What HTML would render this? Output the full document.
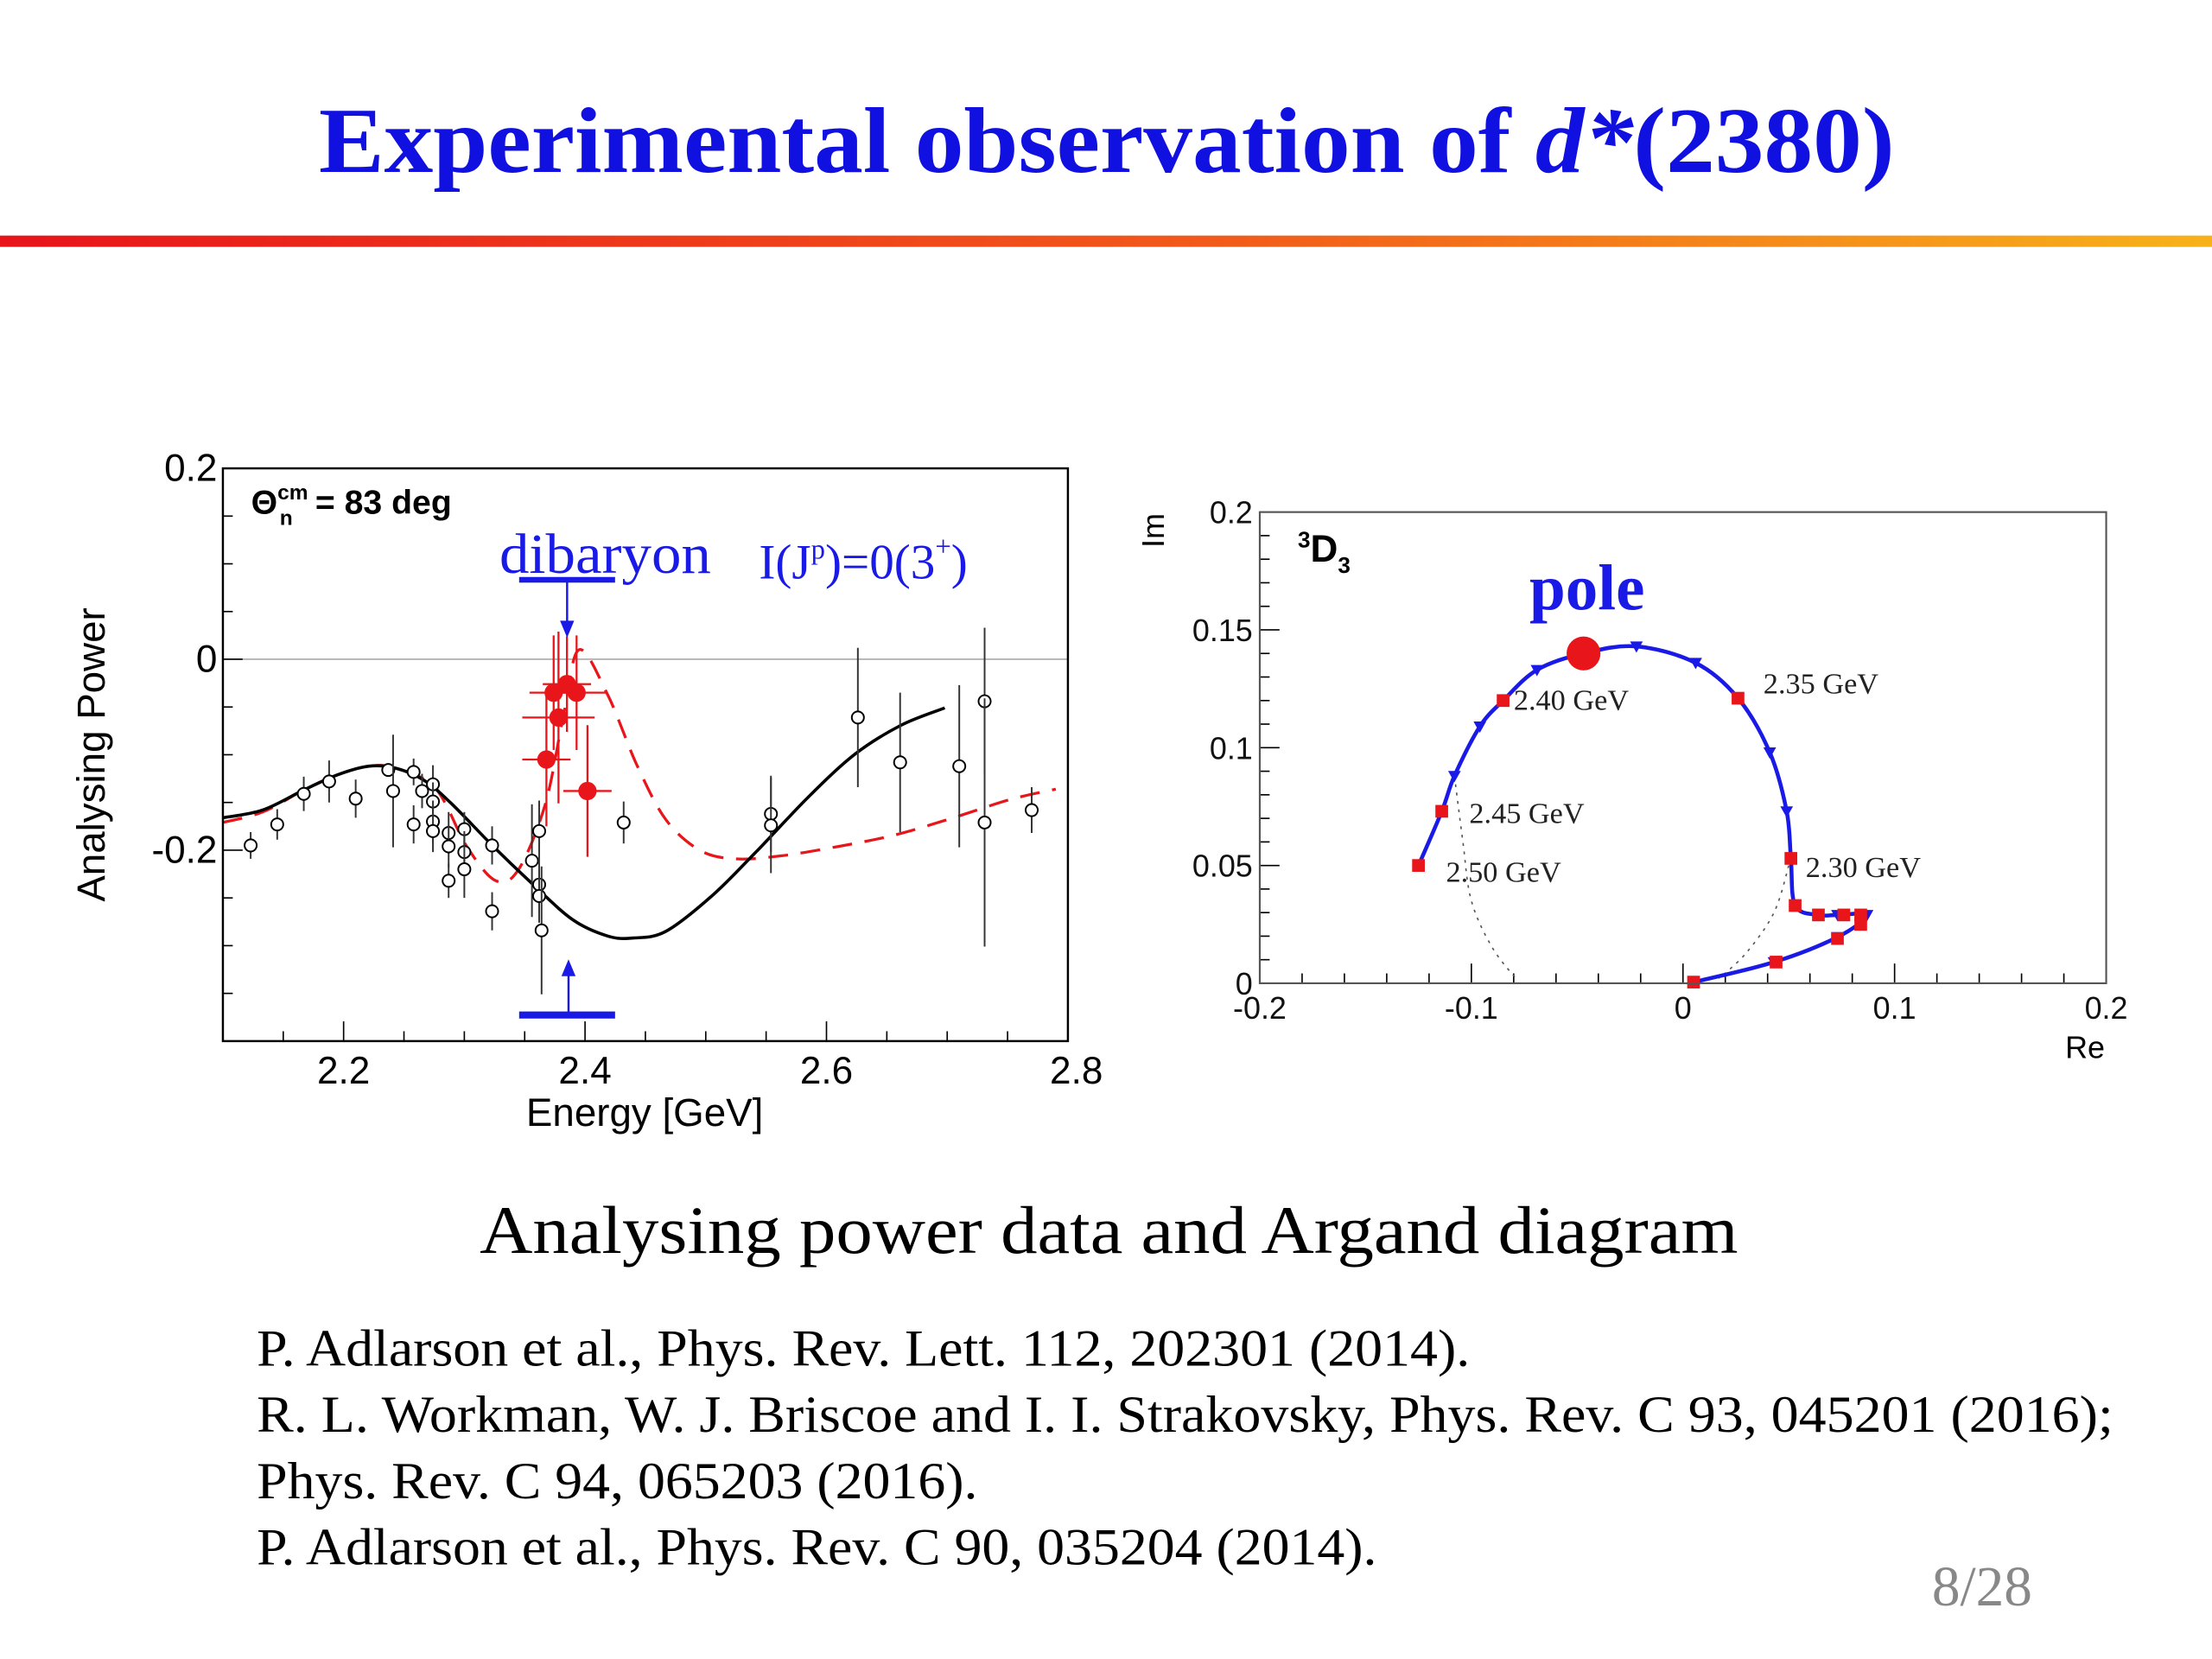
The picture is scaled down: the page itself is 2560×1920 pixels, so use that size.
<!DOCTYPE html>
<html><head><meta charset="utf-8">
<style>
html,body{margin:0;padding:0;background:#fff;}
svg{display:block;}
</style></head>
<body>
<svg id="s" width="2560" height="1920" viewBox="0 0 1568 1176" xmlns="http://www.w3.org/2000/svg">
<defs>
<linearGradient id="g" x1="0" x2="1" y1="0" y2="0">
<stop offset="0" stop-color="#e8141a"/><stop offset="0.55" stop-color="#f25a1a"/><stop offset="1" stop-color="#f7b21a"/>
</linearGradient>
<clipPath id="clipL"><rect x="158" y="332" width="599" height="406"/></clipPath>
</defs>
<rect width="1568" height="1176" fill="#fff"/>
<text x="226" y="122" textLength="1117" lengthAdjust="spacingAndGlyphs" font-family="Liberation Serif, serif" font-weight="bold" font-size="66" fill="#1010e0">Experimental observation of <tspan font-style="italic">d*</tspan>(2380)</text>
<rect x="0" y="167" width="1568" height="8" fill="url(#g)"/>
<g id="left"></g>
<g id="right"></g>
<text x="340" y="888" textLength="892" lengthAdjust="spacingAndGlyphs" font-family="Liberation Serif, serif" font-size="48" fill="#000">Analysing power data and Argand diagram</text>
<g font-family="Liberation Serif, serif" font-size="37" fill="#000">
<text x="182" y="968" textLength="860" lengthAdjust="spacingAndGlyphs">P. Adlarson et al., Phys. Rev. Lett. 112, 202301 (2014).</text>
<text x="182" y="1015" textLength="1316" lengthAdjust="spacingAndGlyphs">R. L. Workman, W. J. Briscoe and I. I. Strakovsky, Phys. Rev. C 93, 045201 (2016);</text>
<text x="182" y="1062" textLength="511" lengthAdjust="spacingAndGlyphs">Phys. Rev. C 94, 065203 (2016).</text>
<text x="182" y="1109" textLength="794" lengthAdjust="spacingAndGlyphs">P. Adlarson et al., Phys. Rev. C 90, 035204 (2014).</text>
</g>
<text x="1405" y="1138" text-anchor="middle" font-family="Liberation Serif, serif" font-size="40" fill="#888">8/28</text>
</svg>
<script>
// ---- Left chart data ----
const blackX=[2.123,2.145,2.167,2.188,2.21,2.237,2.241,2.258,2.258,2.265,2.274,2.274,2.274,2.274,2.287,2.287,2.287,2.3,2.3,2.3,2.323,2.323,2.356,2.362,2.362,2.362,2.364,2.432,2.554,2.554,2.626,2.661,2.71,2.731,2.731,2.77];
const blackY=[-0.195,-0.173,-0.141,-0.128,-0.146,-0.116,-0.138,-0.118,-0.173,-0.138,-0.131,-0.149,-0.170,-0.180,-0.182,-0.196,-0.232,-0.178,-0.202,-0.22,-0.195,-0.264,-0.211,-0.18,-0.236,-0.248,-0.284,-0.171,-0.162,-0.174,-0.061,-0.108,-0.112,-0.044,-0.171,-0.158];
const blackErr=[0.014,0.016,0.018,0.022,0.02,0.006,0.059,0.014,0.02,0.018,0.02,0.02,0.022,0.022,0.022,0.022,0.018,0.018,0.022,0.03,0.02,0.02,0.059,0.032,0.028,0.028,0.067,0.022,0.04,0.05,0.073,0.073,0.085,0.077,0.13,0.024];
const redX=[2.368,2.378,2.374,2.385,2.393,2.402];
const redY=[-0.105,-0.061,-0.035,-0.026,-0.035,-0.138];
const redYErr=[0.07,0.09,0.06,0.05,0.06,0.069];
const redXErr=[0.02,0.03,0.02,0.02,0.025,0.02];
const fitX=[2.1,2.133,2.167,2.195,2.221,2.243,2.267,2.29,2.324,2.357,2.39,2.419,2.44,2.467,2.505,2.543,2.586,2.624,2.662,2.698];
const fitY=[-0.166,-0.158,-0.137,-0.121,-0.112,-0.114,-0.127,-0.152,-0.196,-0.236,-0.273,-0.29,-0.292,-0.285,-0.248,-0.2,-0.143,-0.099,-0.069,-0.051];
const dashX=[2.1,2.133,2.167,2.195,2.221,2.243,2.276,2.302,2.326,2.345,2.367,2.382,2.395,2.419,2.443,2.467,2.495,2.524,2.562,2.61,2.657,2.705,2.752,2.79];
const dashY=[-0.171,-0.16,-0.137,-0.121,-0.112,-0.114,-0.135,-0.196,-0.232,-0.22,-0.152,-0.06,0.01,-0.038,-0.111,-0.168,-0.2,-0.209,-0.206,-0.196,-0.184,-0.166,-0.147,-0.136];
const xTickLabels=["2.2","2.4","2.6","2.8"];
const yTickLabels=["0.2","0","-0.2"];
// ---- Argand data ----
const argRe=[0.005,0.043,0.073,0.087,0.073,0.064,0.053,0.051,0.049,0.041,0.026,0.006,-0.022,-0.047,-0.069,-0.085,-0.096,-0.108,-0.114,-0.125];
const argIm=[0.0005,0.009,0.0196,0.029,0.029,0.029,0.033,0.053,0.073,0.098,0.121,0.136,0.143,0.14,0.133,0.12,0.109,0.088,0.073,0.05];
const sqRe=[0.005,0.044,0.073,0.084,0.084,0.076,0.064,0.053,0.051,0.026,-0.085,-0.114,-0.125];
const sqIm=[0.0005,0.009,0.019,0.025,0.029,0.029,0.029,0.033,0.053,0.121,0.12,0.073,0.05];
const poleRe=[-0.047], poleIm=[0.14];
const dotRe1=[-0.108,-0.104,-0.1,-0.09,-0.078], dotIm1=[0.088,0.06,0.035,0.015,0.001];
const dotRe2=[0.05,0.043,0.03,0.017], dotIm2=[0.05,0.03,0.013,0.002];
const reTicks=["-0.2","-0.1","0","0.1","0.2"];
const imTicks=["0","0.05","0.1","0.15","0.2"];
const gevLabels=["2.30 GeV","2.35 GeV","2.40 GeV","2.45 GeV","2.50 GeV"];
const gevRe=[0.058,0.038,-0.080,-0.101,-0.112];
const gevIm=[0.045,0.123,0.116,0.068,0.043];

const NS="http://www.w3.org/2000/svg";
function mk(parent,tag,attrs){const e=document.createElementNS(NS,tag);for(const k in attrs)e.setAttribute(k,attrs[k]);parent.appendChild(e);return e;}
const L={x0:158,x1:757,y0:332,y1:738,xmin:2.1,xmax:2.8,ymin:-0.4,ymax:0.2};
const lx=v=>L.x0+(v-L.xmin)/(L.xmax-L.xmin)*(L.x1-L.x0);
const ly=v=>L.y1-(v-L.ymin)/(L.ymax-L.ymin)*(L.y1-L.y0);
const R={x0:893,x1:1493,y0:363,y1:697,xmin:-0.2,xmax:0.2,ymin:0,ymax:0.2};
const rx=v=>R.x0+(v-R.xmin)/(R.xmax-R.xmin)*(R.x1-R.x0);
const ry=v=>R.y1-(v-R.ymin)/(R.ymax-R.ymin)*(R.y1-R.y0);
function smooth(xs,ys,fx,fy){const p=xs.map((v,i)=>[fx(v),fy(ys[i])]);let d='M'+p[0][0].toFixed(1)+','+p[0][1].toFixed(1);
 for(let i=0;i<p.length-1;i++){const a=p[i-1]||p[i],b=p[i],c=p[i+1],n=p[i+2]||c;
  const c1=[b[0]+(c[0]-a[0])/6,b[1]+(c[1]-a[1])/6],c2=[c[0]-(n[0]-b[0])/6,c[1]-(n[1]-b[1])/6];
  d+=` C${c1[0].toFixed(1)},${c1[1].toFixed(1)} ${c2[0].toFixed(1)},${c2[1].toFixed(1)} ${c[0].toFixed(1)},${c[1].toFixed(1)}`;}
 return d;}

const left=document.getElementById('left');
let e;
e=mk(left,'line',{x1:L.x0,x2:L.x1,y1:ly(0),y2:ly(0),stroke:'#aaa','stroke-width':1});


for(let i=0;i<=12;i++){const v=L.ymin+i*0.05;const major=(i%4===0);
 e=mk(left,'line',{x1:L.x0,x2:L.x0+(major?14:7),y1:ly(v),y2:ly(v),stroke:'#000','stroke-width':1});
 
 }
for(let i=0;i<=14;i++){const v=L.xmin+i*0.05;const major=(Math.round(v*100)%20===0);
 e=mk(left,'line',{x1:lx(v),x2:lx(v),y1:L.y1,y2:L.y1-(major?14:7),stroke:'#000','stroke-width':1});
 
 }
xTickLabels.forEach((t,i)=>{e=mk(left,'text',{x:lx(parseFloat(t))+(i===3?6:0),y:768,'text-anchor':'middle','font-family':'Liberation Sans, sans-serif','font-size':27});e.textContent=t;
 
 });
yTickLabels.forEach((t,i)=>{e=mk(left,'text',{x:154,y:ly(parseFloat(t))+9,'text-anchor':'end','font-family':'Liberation Sans, sans-serif','font-size':27});e.textContent=t;
 
 });
e=mk(left,'text',{x:457,y:798,'text-anchor':'middle','font-family':'Liberation Sans, sans-serif','font-size':28});e.textContent='Energy [GeV]';


e=mk(left,'text',{x:0,y:0,transform:'translate(74,535) rotate(-90)','text-anchor':'middle','font-family':'Liberation Sans, sans-serif','font-size':28});e.textContent='Analysing Power';


const pts=(xs,ys,fx,fy)=>xs.map((v,i)=>fx(v).toFixed(1)+','+fy(ys[i]).toFixed(1)).join(' ');
const gc=mk(left,'g',{'clip-path':'url(#clipL)'});


e=mk(gc,'path',{d:smooth(dashX,dashY,lx,ly),fill:'none',stroke:'#e8161a','stroke-width':2,'stroke-dasharray':'14,9'});


e=mk(gc,'path',{d:smooth(fitX,fitY,lx,ly),fill:'none',stroke:'#000','stroke-width':2.2});


blackX.forEach((v,i)=>{const g=mk(gc,'g',{});
 
 
 mk(g,'line',{x1:lx(v),x2:lx(v),y1:ly(blackY[i]+blackErr[i]),y2:ly(blackY[i]-blackErr[i]),stroke:'#333','stroke-width':1.2});
 mk(g,'circle',{cx:lx(v),cy:ly(blackY[i]),r:4.3,fill:'#fff',stroke:'#000','stroke-width':1.2});});
redX.forEach((v,i)=>{const g=mk(gc,'g',{});
 
 
 mk(g,'line',{x1:lx(v),x2:lx(v),y1:ly(redY[i]+redYErr[i]),y2:ly(redY[i]-redYErr[i]),stroke:'#e8161a','stroke-width':1.4});
 mk(g,'line',{x1:lx(v-redXErr[i]),x2:lx(v+redXErr[i]),y1:ly(redY[i]),y2:ly(redY[i]),stroke:'#e8161a','stroke-width':1.4});
 mk(g,'circle',{cx:lx(v),cy:ly(redY[i]),r:6.5,fill:'#e8161a'});});
e=mk(left,'rect',{x:L.x0,y:L.y0,width:L.x1-L.x0,height:L.y1-L.y0,fill:'none',stroke:'#000','stroke-width':1.5});


e=mk(left,'text',{x:178,y:364,'font-family':'Liberation Sans, sans-serif','font-size':24,'font-weight':'bold'});
e.innerHTML='Θ<tspan font-size="15" dy="-10">cm</tspan><tspan font-size="15" dx="-20" dy="18">n</tspan><tspan dx="16" dy="-8">= 83 deg</tspan>';


e=mk(left,'text',{x:354,y:406,textLength:150,lengthAdjust:'spacingAndGlyphs','font-family':'Liberation Serif, serif','font-size':40,fill:'#1a1ae6'});e.textContent='dibaryon';


e=mk(left,'text',{x:538,y:410,'font-family':'Liberation Serif, serif','font-size':35,fill:'#1a1ae6'});
e.innerHTML='I(J<tspan font-size="20" dy="-14">p</tspan><tspan dy="14">)=0(3</tspan><tspan font-size="20" dy="-16">+</tspan><tspan dy="16">)</tspan>';


const arrows=mk(left,'g',{stroke:'#1a1ae6',fill:'#1a1ae6'});


mk(arrows,'rect',{x:368,y:409,width:68,height:4,stroke:'none'});
mk(arrows,'line',{x1:402,x2:402,y1:411,y2:443,'stroke-width':1.5});
mk(arrows,'path',{d:'M397,440 L407,440 L402,452 Z',stroke:'none'});
mk(arrows,'rect',{x:368,y:717,width:68,height:5,stroke:'none'});
mk(arrows,'line',{x1:403,x2:403,y1:718,y2:690,'stroke-width':1.5});
mk(arrows,'path',{d:'M398,692 L408,692 L403,680 Z',stroke:'none'});

// ---- Right chart ----
const right=document.getElementById('right');
for(let i=0;i<=20;i++){const v=R.ymin+i*0.01;const major=(i%5===0);
 e=mk(right,'line',{x1:R.x0,x2:R.x0+(major?14:7),y1:ry(v),y2:ry(v),stroke:'#000','stroke-width':1});
 
 }
for(let i=0;i<=20;i++){const v=R.xmin+i*0.02;const major=(i%5===0);
 e=mk(right,'line',{x1:rx(v),x2:rx(v),y1:R.y1,y2:R.y1-(major?14:7),stroke:'#000','stroke-width':1});
 
 }
reTicks.forEach(t=>{e=mk(right,'text',{x:rx(parseFloat(t)),y:722,'text-anchor':'middle','font-family':'Liberation Sans, sans-serif','font-size':22,fill:'#111'});e.textContent=t;
 
 });
imTicks.forEach(t=>{e=mk(right,'text',{x:888,y:ry(parseFloat(t))+8,'text-anchor':'end','font-family':'Liberation Sans, sans-serif','font-size':22,fill:'#111'});e.textContent=t;
 
 });
e=mk(right,'text',{x:1478,y:750,'text-anchor':'middle','font-family':'Liberation Sans, sans-serif','font-size':22});e.textContent='Re';


e=mk(right,'text',{x:0,y:0,transform:'translate(825,376) rotate(-90)','text-anchor':'middle','font-family':'Liberation Sans, sans-serif','font-size':22});e.textContent='Im';


e=mk(right,'text',{x:920,y:398,'font-family':'Liberation Sans, sans-serif','font-size':27,'font-weight':'bold'});
e.innerHTML='<tspan font-size="16" dy="-10">3</tspan><tspan dy="10">D</tspan><tspan font-size="16" dy="8">3</tspan>';


e=mk(right,'text',{x:1125,y:432,'text-anchor':'middle','font-family':'Liberation Serif, serif','font-size':46,'font-weight':'bold',fill:'#1a1ae6'});e.textContent='pole';


e=mk(right,'path',{d:smooth(dotRe1,dotIm1,rx,ry),fill:'none',stroke:'#555','stroke-width':1,'stroke-dasharray':'2,4'});


e=mk(right,'path',{d:smooth(dotRe2,dotIm2,rx,ry),fill:'none',stroke:'#555','stroke-width':1,'stroke-dasharray':'2,4'});


e=mk(right,'path',{d:smooth(argRe,argIm,rx,ry),fill:'none',stroke:'#1a1ae6','stroke-width':2.8});


argRe.forEach((v,i)=>{const x=rx(v),y=ry(argIm[i]);
 e=mk(right,'path',{d:`M${x-4.5},${y-3.5} L${x+4.5},${y-3.5} L${x},${y+4.5} Z`,fill:'#1a1ae6'});
 
 });
sqRe.forEach((v,i)=>{e=mk(right,'rect',{x:rx(v)-4.5,y:ry(sqIm[i])-4.5,width:9,height:9,fill:'#e8161a'});
 
 });
e=mk(right,'ellipse',{cx:rx(poleRe[0]),cy:ry(poleIm[0]),rx:12,ry:12,fill:'#e8161a'});


gevLabels.forEach((t,i)=>{e=mk(right,'text',{x:rx(gevRe[i]),y:ry(gevIm[i]),'font-family':'Liberation Serif, serif','font-size':21,fill:'#222'});e.textContent=t;
 
 });
e=mk(right,'rect',{x:R.x0,y:R.y0,width:R.x1-R.x0,height:R.y1-R.y0,fill:'none',stroke:'#555','stroke-width':1.3});


</script>
</body></html>
